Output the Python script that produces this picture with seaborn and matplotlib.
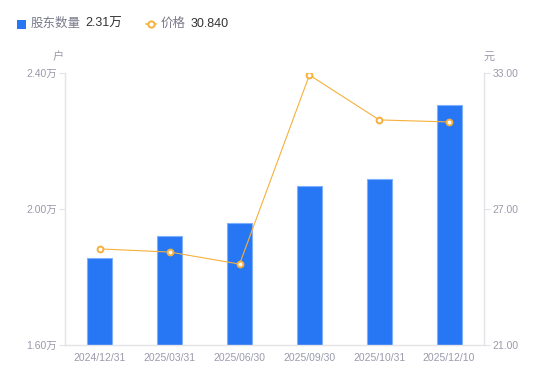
import matplotlib
matplotlib.use("Agg")
import matplotlib.pyplot as plt
import seaborn as sns
import numpy as np
import pandas as pd
from matplotlib.lines import Line2D
from matplotlib.patches import Rectangle

dates = ["2024/12/31", "2025/03/31", "2025/06/30", "2025/09/30", "2025/10/31", "2025/12/10"]
holders = [1.856, 1.921, 1.959, 2.068, 2.088, 2.306]   # 万户
price = [25.24, 25.10, 24.57, 32.91, 30.93, 30.84]     # 元
left_ticks = [1.60, 2.00, 2.40]
right_ticks = [21.00, 27.00, 33.00]

sns.set_theme(style="white")
plt.rcParams['font.family'] = ['Liberation Sans', 'Noto Sans CJK SC', 'DejaVu Sans']

BLUE = "#2776f4"
ORANGE = "#f7b03c"
GRAY = "#9a9aab"
AXC = "#e3e3e8"

df = pd.DataFrame({"date": dates, "holders": holders, "price": price})
df["pos"] = np.arange(len(df))

fig = plt.figure(figsize=(5.5, 3.81), dpi=100)
ax = fig.add_axes([65/550, 1-345/381, (484-65)/550, (345-73)/381])
sns.barplot(data=df, x="date", y="holders", ax=ax, color=BLUE, saturation=1,
            width=0.36, edgecolor="#7fb0ff", linewidth=0.8)
ax.set_ylim(1.60, 2.40)
ax.set_xlim(-0.5, len(dates)-0.5)
ax.set_yticks(left_ticks)
ax.set_yticklabels([f"{v:.2f}万" for v in left_ticks])
ax.set_xlabel("")
ax.set_ylabel("")

ax2 = ax.twinx()
sns.lineplot(data=df, x="pos", y="price", ax=ax2, color=ORANGE, linewidth=0.8,
             marker="o", markersize=4.2, markerfacecolor="white",
             markeredgecolor=ORANGE, markeredgewidth=1.4)
ax2.set_ylim(21.0, 33.0)
ax2.set_yticks(right_ticks)
ax2.set_yticklabels([f"{v:.2f}" for v in right_ticks])
ax2.set_xlim(-0.5, len(dates)-0.5)
ax2.set_xlabel("")
ax2.set_ylabel("")

for a in (ax, ax2):
    for s in a.spines.values():
        s.set_visible(False)
    a.grid(False)
ax.spines["left"].set_visible(True)
ax.spines["left"].set_color(AXC)
ax.spines["bottom"].set_visible(True)
ax.spines["bottom"].set_color(AXC)
ax2.spines["right"].set_visible(True)
ax2.spines["right"].set_color(AXC)
for s in ("left", "bottom"):
    ax.spines[s].set_linewidth(1)
ax2.spines["right"].set_linewidth(1)

ax.tick_params(axis="y", colors=AXC, labelcolor=GRAY, labelsize=7.5, length=4, width=0.8, pad=2, left=True)
ax.tick_params(axis="x", colors=AXC, labelcolor=GRAY, labelsize=7.5, length=0, pad=6)
ax2.tick_params(axis="y", colors=AXC, labelcolor=GRAY, labelsize=7.5, length=4, width=0.8, pad=2, right=True)

fig.text(58/550, 1-57/381, "户", color=GRAY, fontsize=8, ha="center", va="center")
fig.text(489/550, 1-57/381, "元", color=GRAY, fontsize=8, ha="center", va="center")

# legend
fig.patches.append(Rectangle((17/550, 1-29/381), 9/550, 9/381, transform=fig.transFigure,
                             facecolor=BLUE, edgecolor="none"))
fig.text(31/550, 1-24/381, "股东数量", color="#7a7a8a", fontsize=9, va="center")
fig.text(85/550, 1-24/381, "2.31万", color="#333333", fontsize=9, va="center")
fig.lines.append(Line2D([146/550, 156/550], [1-24/381, 1-24/381], transform=fig.transFigure,
                        color=ORANGE, linewidth=1.2))
fig.lines.append(Line2D([151/550], [1-24/381], transform=fig.transFigure, marker="o",
                        markersize=4.5, markerfacecolor="white", markeredgecolor=ORANGE,
                        markeredgewidth=1.4, linestyle="none"))
fig.text(161/550, 1-24/381, "价格", color="#7a7a8a", fontsize=9, va="center")
fig.text(191/550, 1-24/381, "30.840", color="#333333", fontsize=9, va="center")

fig.savefig("out.png", dpi=100)
